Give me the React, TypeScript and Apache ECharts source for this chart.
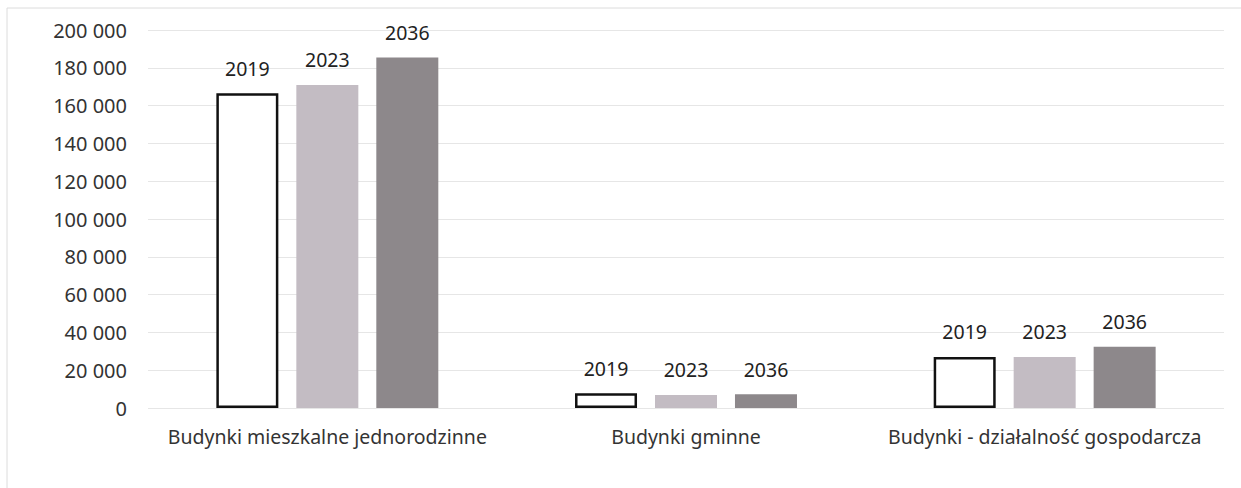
import React, { useEffect, useRef } from "react";
import * as echarts from "echarts";

// Categories of buildings and values per year
const categories = [
  "Budynki mieszkalne jednorodzinne",
  "Budynki gminne",
  "Budynki - działalność gospodarcza",
];
const years = ["2019", "2023", "2036"];
const values2019 = [166500, 7800, 27000];
const values2023 = [170900, 6900, 27000];
const values2036 = [185500, 7300, 32400];

const yTicksMax = 200000;
const yTickStep = 20000;

const FONT = "'Noto Sans', 'Open Sans', sans-serif";

export default function App() {
  const ref = useRef<HTMLDivElement>(null);

  useEffect(() => {
    if (!ref.current) return;
    const chart = echarts.init(ref.current, null, { renderer: "svg" });

    const labelStyle = {
      show: true,
      position: "top" as const,
      formatter: "{a}",
      distance: 15,
      fontSize: 19.5,
      fontFamily: FONT,
      color: "#222222",
    };

    const seriesData = [values2019, values2023, values2036];
    const styles = [
      { color: "#ffffff", borderColor: "#111111", borderWidth: 2.5 },
      { color: "#c3bcc3" },
      { color: "#8d888b" },
    ];

    chart.setOption({
      animation: false,
      backgroundColor: "#ffffff",
      textStyle: { fontFamily: FONT },
      grid: { left: 148, right: 17, top: 30, bottom: 80 },
      graphic: [
        {
          type: "rect",
          shape: { x: 7, y: 8, width: 1250, height: 500 },
          style: { fill: "none", stroke: "#dcdcdc", lineWidth: 1 },
          silent: true,
        },
      ],
      xAxis: {
        type: "category",
        data: categories,
        axisLine: { show: false },
        axisTick: { show: false },
        axisLabel: {
          interval: 0,
          margin: 18,
          fontSize: 19.5,
          fontFamily: FONT,
          color: "#333333",
        },
      },
      yAxis: {
        type: "value",
        min: 0,
        max: yTicksMax,
        interval: yTickStep,
        axisLine: { show: false },
        axisTick: { show: false },
        splitLine: { lineStyle: { color: "#e6e6e6", width: 1 } },
        axisLabel: {
          margin: 21,
          fontSize: 20,
          fontFamily: FONT,
          color: "#333333",
          formatter: (v: number) =>
            String(v).replace(/\B(?=(\d{3})+(?!\d))/g, " "),
        },
      },
      series: years.map((y, i) => ({
        name: y,
        type: "bar",
        data: seriesData[i],
        barWidth: 62,
        barGap: "29%",
        itemStyle: styles[i],
        label: labelStyle,
      })),
    });

    return () => chart.dispose();
  }, []);

  return (
    <div
      ref={ref}
      style={{ position: "fixed", left: 0, top: 0, width: 1241, height: 488 }}
    />
  );
}
